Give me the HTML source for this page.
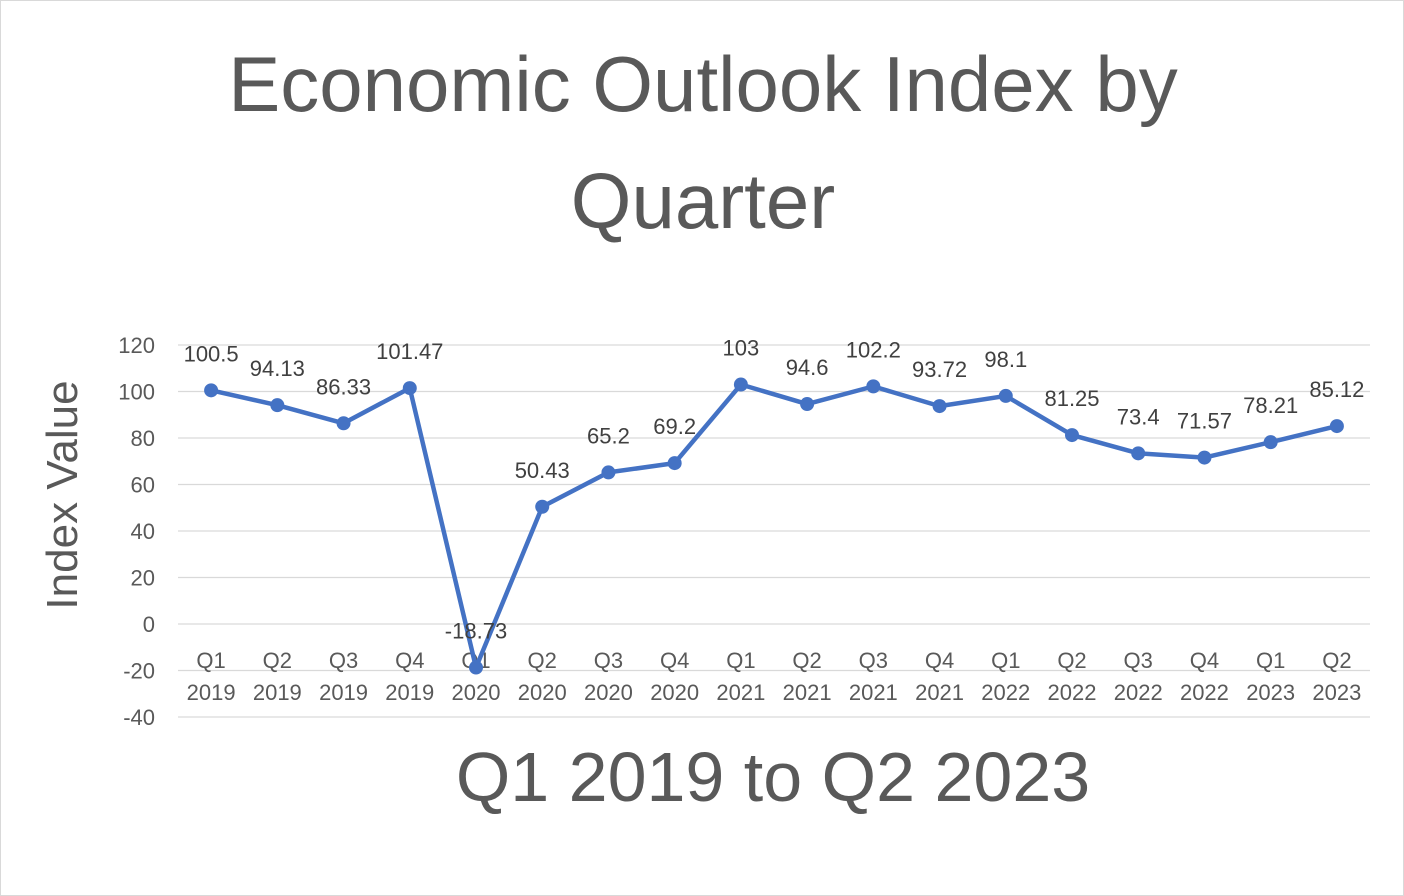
<!DOCTYPE html>
<html><head><meta charset="utf-8"><style>
html,body{margin:0;padding:0;background:#fff}
svg{display:block}
text{font-family:"Liberation Sans",sans-serif}
</style></head><body>
<svg id="chart" width="1404" height="896" xmlns="http://www.w3.org/2000/svg">
<rect x="0.5" y="0.5" width="1403" height="895" fill="#fff" stroke="#d9d9d9"/>
<text x="703" y="111" text-anchor="middle" font-size="78" fill="#595959">Economic Outlook Index by</text>
<text x="703" y="228" text-anchor="middle" font-size="78" fill="#595959">Quarter</text>
<text transform="translate(77,495) rotate(-90)" text-anchor="middle" font-size="44" fill="#595959">Index Value</text>
<text x="773" y="801" text-anchor="middle" font-size="70" fill="#595959">Q1 2019 to Q2 2023</text>
<g id="grid"></g><g id="cats"></g><g id="series"></g>
</svg>
<script>
const categories=["Q1 2019","Q2 2019","Q3 2019","Q4 2019","Q1 2020","Q2 2020","Q3 2020","Q4 2020","Q1 2021","Q2 2021","Q3 2021","Q4 2021","Q1 2022","Q2 2022","Q3 2022","Q4 2022","Q1 2023","Q2 2023"];
const values=[100.5,94.13,86.33,101.47,-18.73,50.43,65.2,69.2,103,94.6,102.2,93.72,98.1,81.25,73.4,71.57,78.21,85.12];
const yTicks=[-40,-20,0,20,40,60,80,100,120];
const NS="http://www.w3.org/2000/svg";
const x0=178,x1=1370,yTop=345,yBot=717,yMin=-40,yMax=120;
const y=v=>yBot-(v-yMin)/(yMax-yMin)*(yBot-yTop);
const step=(x1-x0)/categories.length;
const x=i=>x0+step*(i+0.5);
function mk(t,a,p){const e=document.createElementNS(NS,t);for(const k in a)e.setAttribute(k,a[k]);p.appendChild(e);return e;}
const grid=document.getElementById('grid');
yTicks.forEach(v=>{
 const l=mk('line',{x1:x0,x2:x1,y1:y(v),y2:y(v),stroke:'#d9d9d9','stroke-width':1.3},grid);
 
 
 const t=mk('text',{x:155,y:y(v)+8,'text-anchor':'end','font-size':22,fill:'#595959'},grid);
 t.textContent=v;
 
 
});
const cats=document.getElementById('cats');
categories.forEach((c,i)=>{
 const parts=c.split(' ');
 const t=mk('text',{x:x(i),y:668,'text-anchor':'middle','font-size':22,fill:'#595959'},cats);
 
 
 const a=mk('tspan',{x:x(i),dy:0},t);a.textContent=parts[0];
 const b=mk('tspan',{x:x(i),dy:32},t);b.textContent=parts[1];
});
const s=document.getElementById('series');
const p=mk('polyline',{points:values.map((v,i)=>x(i)+','+y(v)).join(' '),fill:'none',stroke:'#4472c4','stroke-width':4.5,'stroke-linejoin':'round'},s);


values.forEach((v,i)=>{
 const c=mk('circle',{cx:x(i),cy:y(v),r:7,fill:'#4472c4'},s);
 
 
 const t=mk('text',{x:x(i),y:y(v)-29,'text-anchor':'middle','font-size':22,fill:'#404040'},s);
 t.textContent=v;
 
 
});
</script>
</body></html>
